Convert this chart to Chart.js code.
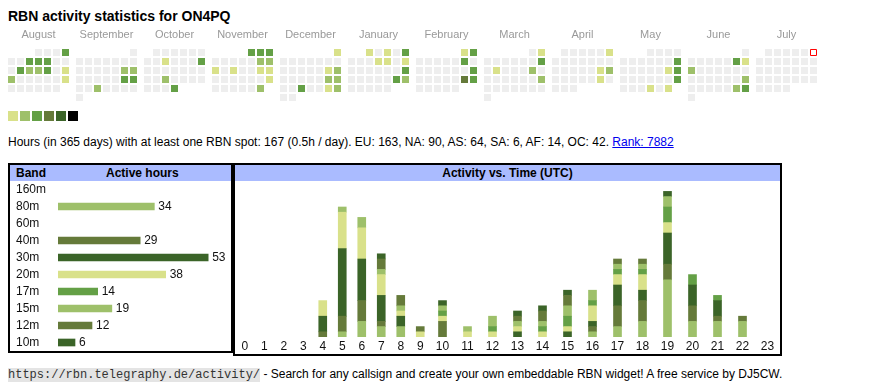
<!DOCTYPE html>
<html lang="en">
<head>
  <meta charset="UTF-8">
  <title>RBN activity statistics for ON4PQ</title>
  <script src="https://cdn.jsdelivr.net/npm/chart.js"></script>
  <style>
    body {
      margin: 0;
      width: 870px;
      height: 390px;
      position: relative;
      overflow: hidden;
      background: #fff;
      color: #000;
      font-family: 'Liberation Sans', Arial, sans-serif;
      font-size: 12px;
    }

    #titulo {
      position: absolute;
      left: 8px;
      top: 8px;
      font-size: 14px;
      font-weight: bold;
      line-height: 16px;
    }

    #graficoCalendario { position: absolute; left: 7px; top: 25px; }

    #leyenda { position: absolute; left: 8px; top: 111px; height: 10px; }
    #leyenda span {
      float: left;
      width: 10px;
      height: 10px;
      margin-right: 2px;
    }

    #resumen { position: absolute; left: 8px; top: 135px; line-height: 14px; white-space: nowrap; }
    #resumen a { color: #0000ee; }

    .caja {
      position: absolute;
      top: 163px;
      border: 2px solid #000;
      box-sizing: border-box;
    }
    #cajaBandas { left: 8px; width: 225px; height: 190px; }
    #cajaHoras { left: 233px; width: 549px; height: 193px; }

    .cabecera {
      position: absolute;
      top: 165px;
      height: 16px;
      line-height: 16px;
      background: #aabbff;
      font-weight: bold;
    }
    #cabBandas { left: 10px; width: 221px; }
    #cabBandas span { position: absolute; top: 0; }
    #cabHoras { left: 235px; width: 545px; text-align: center; }

    #graficoBandas { position: absolute; left: 10px; top: 181px; }
    #graficoHoras { position: absolute; left: 235px; top: 181px; }

    #pie { position: absolute; left: 8px; top: 367px; line-height: 14px; white-space: nowrap; }
    #pie code {
      font-family: 'Liberation Mono', monospace;
      font-size: 12px;
      background: #e4e4e4;
      color: #333;
    }
  </style>
</head>
<body>

<div id="titulo">RBN activity statistics for ON4PQ</div>

<!-- calendario de actividad diaria -->
<canvas id="graficoCalendario" width="828" height="77"></canvas>

<div id="leyenda">
  <span style="background:#d9e18a"></span>
  <span style="background:#9ec06a"></span>
  <span style="background:#64a046"></span>
  <span style="background:#657a3a"></span>
  <span style="background:#3b6428"></span>
  <span style="background:#000000"></span>
</div>

<div id="resumen">Hours (in 365 days) with at least one RBN spot: 167 (0.5h / day). EU: 163, NA: 90, AS: 64, SA: 6, AF: 14, OC: 42. <a href="#">Rank: 7882</a></div>

<div class="caja" id="cajaBandas"></div>
<div class="caja" id="cajaHoras"></div>
<div class="cabecera" id="cabBandas"><span style="left:6px">Band</span><span style="left:96px">Active hours</span></div>
<div class="cabecera" id="cabHoras">Activity vs. Time (UTC)</div>

<canvas id="graficoBandas" width="221" height="170"></canvas>
<canvas id="graficoHoras" width="545" height="173"></canvas>

<div id="pie"><code>https://rbn.telegraphy.de/activity/</code> - Search for any callsign and create your own embeddable RBN widget! A free service by DJ5CW.</div>

<script>
  // ---- datos ----
  var months = ['August', 'September', 'October', 'November', 'December', 'January',
                'February', 'March', 'April', 'May', 'June', 'July'];

  // [día, nivel] de los días con actividad, un array por mes
  var actAug = [[4, 3], [7, 3], [8, 3], [9, 3], [13, 3], [14, 2], [15, 2], [16, 3], [18, 1], [19, 2], [25, 1]];
  var actSep = [[14, 2], [15, 2], [21, 3], [22, 3], [25, 2]];
  var actOct = [[9, 1], [13, 3], [23, 2], [31, 3]];
  var actNov = [[1, 3], [2, 3], [3, 3], [9, 2], [10, 2], [11, 1], [13, 1], [16, 1], [17, 1], [24, 1], [30, 2]];
  var actDec = [[1, 1], [14, 1], [15, 2], [21, 2], [22, 2], [25, 3], [28, 1], [29, 2]];
  var actJan = [[1, 1], [3, 1], [5, 3], [9, 1], [10, 1], [12, 1], [19, 3], [25, 3], [26, 2]];
  var actFeb = [[1, 1], [2, 3], [8, 3], [16, 3], [22, 4], [23, 3]];
  var actMar = [[2, 1], [9, 3], [11, 1], [15, 2], [23, 2]];
  var actApr = [[6, 1], [19, 1], [20, 2], [26, 1]];
  var actMay = [[11, 3], [17, 1], [18, 3], [25, 3], [29, 1], [31, 1]];
  var actJun = [[7, 3], [8, 1], [9, 2], [22, 2], [28, 2], [29, 3]];
  var actJul = [];
  var monthActivity = [actAug, actSep, actOct, actNov, actDec, actJan,
                       actFeb, actMar, actApr, actMay, actJun, actJul];
  var firstYear = 2024;
  var today = [11, 6]; // [mes, día]

  var bands = ['160m', '80m', '60m', '40m', '30m', '20m', '17m', '15m', '12m', '10m'];
  var bandHours = [0, 34, 0, 29, 53, 38, 14, 19, 12, 6];

  var hours = ['0', '1', '2', '3', '4', '5', '6', '7', '8', '9', '10', '11',
               '12', '13', '14', '15', '16', '17', '18', '19', '20', '21', '22', '23'];
  var h160m = [0, 0, 0, 0, 0, 0, 0, 0, 0, 0, 0, 0, 0, 0, 0, 0, 0, 0, 0, 0, 0, 0, 0, 0];
  var h80m  = [0, 0, 0, 0, 0, 1, 3, 2, 2, 0, 0, 0, 0, 0, 0, 0, 1, 2, 3, 11, 3, 3, 3, 0];
  var h60m  = [0, 0, 0, 0, 0, 0, 0, 0, 0, 0, 0, 0, 0, 0, 0, 0, 0, 0, 0, 0, 0, 0, 0, 0];
  var h40m  = [0, 0, 0, 0, 1, 3, 4, 1, 0, 0, 3, 0, 0, 0, 0, 0, 1, 4, 4, 3, 3, 1, 1, 0];
  var h30m  = [0, 0, 0, 0, 3, 13, 8, 5, 2, 0, 0, 0, 0, 1, 0, 1, 1, 4, 2, 6, 4, 3, 0, 0];
  var h20m  = [0, 0, 0, 0, 3, 7, 6, 4, 1, 1, 1, 1, 1, 1, 1, 1, 3, 2, 3, 2, 0, 0, 0, 0];
  var h17m  = [0, 0, 0, 0, 0, 0, 0, 0, 0, 0, 1, 0, 1, 0, 1, 2, 1, 1, 1, 3, 2, 1, 0, 0];
  var h15m  = [0, 0, 0, 0, 0, 1, 2, 1, 1, 0, 1, 1, 2, 1, 1, 2, 2, 1, 1, 2, 0, 0, 0, 0];
  var h12m  = [0, 0, 0, 0, 0, 0, 0, 2, 2, 1, 0, 0, 0, 1, 2, 2, 0, 1, 1, 0, 0, 0, 0, 0];
  var h10m  = [0, 0, 0, 0, 0, 0, 0, 1, 0, 0, 1, 0, 0, 1, 1, 1, 0, 0, 0, 1, 0, 0, 0, 0];
  var hoursPerBand = [h160m, h80m, h60m, h40m, h30m, h20m, h17m, h15m, h12m, h10m];

  // ---- estilos ----
  var levelColors = ['#eeeeee', '#d9e18a', '#9ec06a', '#64a046', '#657a3a', '#3b6428', '#000000'];
  var bandColors = ['#d9e18a', '#9ec06a', '#64a046', '#657a3a', '#3b6428',
                    '#d9e18a', '#64a046', '#9ec06a', '#657a3a', '#3b6428'];
  var fuente = "'Liberation Sans', Arial, sans-serif";
  var monthStep = 68 / 9; // ancho de un bloque de mes en columnas

  // los ceros no se dibujan
  function sinCeros(v) { return v ? v : null; }

  function esHoy(c) { return c.raw && c.raw.today; }

  // ---- calendario ----
  var cells = [];
  months.forEach(function (name, m) {
    var first = new Date(firstYear, 7 + m, 1);
    var offset = (first.getDay() + 6) % 7; // lunes = 0
    var days = new Date(firstYear, 8 + m, 0).getDate();
    var levels = {};
    monthActivity[m].forEach(function (a) { levels[a[0]] = a[1]; });
    for (var d = 1; d <= days; d++) {
      var pos = offset + d - 1;
      cells.push({
        x: m * monthStep + pos % 7,
        y: Math.floor(pos / 7),
        level: levels[d] || 0,
        today: m === today[0] && d === today[1]
      });
    }
  });

  new Chart(document.getElementById('graficoCalendario'), {
    type: 'scatter',
    data: {
      datasets: [{
        data: cells,
        pointStyle: 'rect',
        // el día de hoy: cuadro vacío con borde rojo
        pointRadius: function (c) { return esHoy(c) ? 4.243 : 4.95; },
        backgroundColor: function (c) { return esHoy(c) ? '#ffffff' : levelColors[c.raw ? c.raw.level : 0]; },
        borderColor: function (c) { return esHoy(c) ? '#ff0000' : 'rgba(0,0,0,0)'; },
        borderWidth: function (c) { return esHoy(c) ? 1 : 0; }
      }]
    },
    options: {
      responsive: false,
      animation: false,
      events: [],
      layout: { autoPadding: false, padding: 0 },
      plugins: { legend: { display: false }, tooltip: { enabled: false } },
      scales: {
        x: {
          type: 'linear',
          position: 'top',
          min: -0.5,
          max: 91.5,
          grid: { display: false, drawTicks: false },
          border: { display: false },
          afterBuildTicks: function (axis) {
            axis.ticks = months.map(function (_, m) { return { value: m * monthStep + 3 }; });
          },
          afterFit: function (axis) {
            axis.height = 23;
            axis.paddingLeft = 0;
            axis.paddingRight = 0;
          },
          ticks: {
            autoSkip: false,
            maxRotation: 0,
            padding: 6,
            color: '#999',
            font: { family: fuente, size: 11 },
            callback: function (v, i) { return months[i]; }
          }
        },
        y: { type: 'linear', display: false, min: -0.5, max: 5.5, reverse: true }
      }
    }
  });

  // ---- horas activas por banda ----
  var etiquetasValor = {
    id: 'etiquetasValor',
    afterDatasetsDraw: function (chart) {
      var ctx = chart.ctx;
      var meta = chart.getDatasetMeta(0);
      ctx.save();
      ctx.font = '12px ' + fuente;
      ctx.fillStyle = '#111';
      ctx.textBaseline = 'middle';
      meta.data.forEach(function (barra, i) {
        var v = chart.data.datasets[0].data[i];
        if (v) ctx.fillText(v, barra.x + 4, barra.y + 0.5);
      });
      ctx.restore();
    }
  };

  new Chart(document.getElementById('graficoBandas'), {
    type: 'bar',
    data: {
      labels: bands,
      datasets: [{ data: bandHours.map(sinCeros), backgroundColor: bandColors, barThickness: 7 }]
    },
    options: {
      indexAxis: 'y',
      responsive: false,
      animation: false,
      events: [],
      layout: { autoPadding: false, padding: { left: 6, right: 3, top: 0, bottom: 0 } },
      plugins: { legend: { display: false }, tooltip: { enabled: false } },
      scales: {
        x: { display: false, min: 0, max: 60 },
        y: {
          grid: { display: false, drawTicks: false },
          border: { display: false },
          afterFit: function (axis) {
            axis.width = 42;
            axis.paddingTop = 0;
            axis.paddingBottom = 0;
          },
          ticks: {
            autoSkip: false,
            crossAlign: 'far',
            padding: 0,
            color: '#111',
            font: { family: fuente, size: 12 }
          }
        }
      }
    },
    plugins: [etiquetasValor]
  });

  // ---- actividad por hora (UTC) ----
  // ancho de cada columna según la longitud de su etiqueta, como en una tabla
  var centers = [];
  var total = 0;
  hours.forEach(function (h) {
    var w = 14 + 5.5 * h.length;
    centers.push(total + w / 2);
    total += w;
  });

  var datasetsHoras = bands.map(function (b, i) {
    return {
      label: b,
      data: hoursPerBand[i].map(function (v, h) { return { x: centers[h], y: sinCeros(v) }; }),
      backgroundColor: bandColors[i],
      barThickness: 8
    };
  });

  new Chart(document.getElementById('graficoHoras'), {
    type: 'bar',
    data: { datasets: datasetsHoras },
    options: {
      responsive: false,
      animation: false,
      events: [],
      layout: { autoPadding: false, padding: 0 },
      plugins: { legend: { display: false }, tooltip: { enabled: false } },
      scales: {
        x: {
          type: 'linear',
          stacked: true,
          offset: false,
          min: 0,
          max: total,
          grid: { display: false, drawTicks: false },
          border: { display: false },
          afterBuildTicks: function (axis) {
            axis.ticks = centers.map(function (c) { return { value: c }; });
          },
          afterFit: function (axis) {
            axis.height = 17;
            axis.paddingLeft = 0;
            axis.paddingRight = 0;
          },
          ticks: {
            autoSkip: false,
            maxRotation: 0,
            padding: 2,
            color: '#111',
            font: { family: fuente, size: 12 },
            callback: function (v, i) { return hours[i]; }
          }
        },
        y: { display: false, stacked: true, min: 0, max: 30 }
      }
    }
  });
</script>

</body>
</html>
